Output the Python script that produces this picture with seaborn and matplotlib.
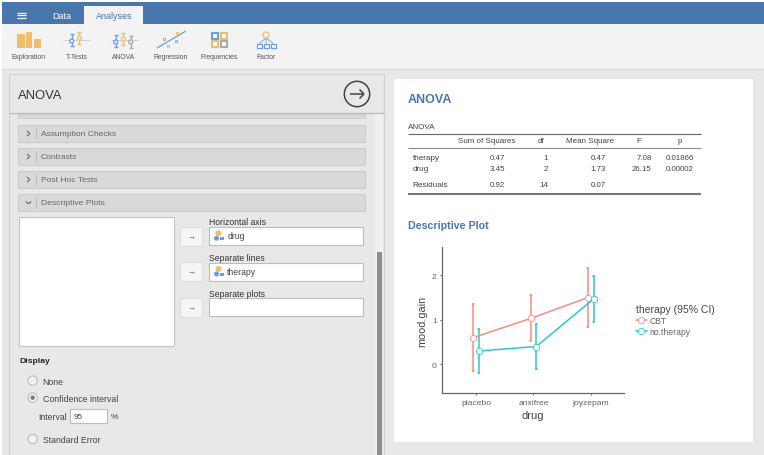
import numpy as np
import pandas as pd
import matplotlib
matplotlib.use('Agg')
import matplotlib.pyplot as plt
from matplotlib.patches import Rectangle, Circle
import seaborn as sns

# values
drugs = ['placebo', 'anxifree', 'joyzepam']
therapies = ['CBT', 'no.therapy']
cbt_mean = [0.60, 1.03, 1.50]
cbt_low = [-0.15, 0.52, 0.84]
cbt_high = [1.35, 1.55, 2.16]
not_mean = [0.30, 0.40, 1.47]
not_low = [-0.20, -0.10, 0.95]
not_high = [0.80, 0.90, 1.98]

table_terms = ['therapy', 'drug', 'Residuals']
table_ss = ['0.47', '3.45', '0.92']
table_df = ['1', '2', '14']
table_ms = ['0.47', '1.73', '0.07']
table_f = ['7.08', '26.15', '']
table_p = ['0.01866', '0.00002', '']
table_rows_y = [158, 169.7, 185]

toolbar_names = ['Exploration', 'T-Tests', 'ANOVA', 'Regression', 'Frequencies', 'Factor']
toolbar_x = [29, 77, 124, 171, 219, 266]
section_names = ['Assumption Checks', 'Contrasts', 'Post Hoc Tests', 'Descriptive Plots']
section_y = [126, 149, 172, 195]

BLUE = '#4a76ae'
ORANGE = '#f0bd6c'
ICON_BLUE = '#6c9de0'
PINK = '#fa8a82'
TEAL = '#2cc8cc'

sns.set_theme(style='ticks')
plt.rcParams['font.family'] = ['Liberation Sans', 'DejaVu Sans']

W, H = 764, 456
fig = plt.figure(figsize=(W / 100, H / 100), dpi=100, facecolor='white')
ui = fig.add_axes([0, 0, 1, 1])
ui.set_xlim(0, W)
ui.set_ylim(H, 0)
ui.axis('off')


def box(x, y, w, h, fc, ec='none', lw=0.8, z=1):
    ui.add_patch(Rectangle((x, y), w, h, fc=fc, ec=ec, lw=lw, zorder=z))


def label(x, y, s, px=8.5, color='#444444', ha='left', weight='normal', z=5):
    # va=center sits a little high for this font, nudge down with the size
    ui.text(x, y + 0.1 * px, s, fontsize=px * 0.72, color=color, ha=ha, va='center', weight=weight, zorder=z)


def seg(x0, y0, x1, y1, color='#888888', lw=1.0, z=3):
    ui.plot([x0, x1], [y0, y1], color=color, lw=lw, zorder=z, solid_capstyle='butt')


def ring(x, y, r, color, z=4, fc='#f3f3f3'):
    ui.add_patch(Circle((x, y), r, fc=fc, ec=color, lw=0.9, zorder=z))


def mini_marker(x, y, color, up):
    seg(x, y - 6, x, y + 6, color)
    seg(x - 2, y - 6, x + 2, y - 6, color)
    seg(x - 2, y + 6, x + 2, y + 6, color)
    ring(x, y + (up * 1), 2, color)


# page background and header
box(2, 3, W, H, '#e8e8e8', z=0)
box(2, 3, W, 22, BLUE)
box(2, 25, W, 45, '#f3f3f3')
seg(2, 70, W, 70, '#d9d9d9', 0.8)
box(84, 7, 59, 18.5, '#f3f3f3', z=2)
for yy in (13.7, 16.2, 18.7):
    seg(16.5, yy, 25.5, yy, 'white', 0.9)
label(62, 16, 'Data', 9, 'white', ha='center')
label(114, 16, 'Analyses', 9, BLUE, ha='center')

for name, x in zip(toolbar_names, toolbar_x):
    label(x, 57, name, 6.8, '#555555', ha='center')

# toolbar icons
box(16.7, 35, 8, 14, ORANGE)
box(25.6, 33, 6.6, 16, ORANGE)
box(34, 40, 6.7, 9, ORANGE)
seg(63, 41, 90, 41, '#cccccc', 0.6)
mini_marker(71.7, 41, ICON_BLUE, 1)
mini_marker(79.3, 39, ORANGE, 0)
seg(111, 41, 138, 41, '#cccccc', 0.6)
mini_marker(115.7, 42, ICON_BLUE, 1)
mini_marker(123.3, 40, ORANGE, 0)
mini_marker(130.7, 43, '#aaaaaa', 0)
seg(157, 49, 186, 32, ICON_BLUE, 0.9)
for px_, py_, c_ in [(164, 40, '#aaaaaa'), (168, 47, ORANGE), (176, 42, '#aaaaaa'), (177, 33.5, ORANGE)]:
    ui.add_patch(Rectangle((px_ - 1, py_ - 1), 2, 2, fc='none', ec=c_, lw=0.7, zorder=4))
for bx, by, c_ in [(212, 34, ICON_BLUE), (220.5, 34, ORANGE), (212, 42, ORANGE), (220.5, 42, '#aaaaaa')]:
    ui.add_patch(Rectangle((bx, by), 6, 6, fc='white', ec=c_, lw=1.5, zorder=4))
ring(266, 36, 3, ORANGE)
for bx in (257, 264, 271):
    ui.add_patch(Rectangle((bx, 44.5), 4.7, 4.5, fc='white', ec=ICON_BLUE, lw=0.9, zorder=4))
    seg(266, 39, bx + 2.3, 44.5, ICON_BLUE, 0.6)

# left options panel
box(9, 75, 375, 381, '#e8e8e8', ec='#cfcfcf')
box(18, 115, 347, 3.5, '#d9d9d9', ec='#cccccc')
seg(9, 114, 384, 114, '#bdbdbd', 1.0)
label(18, 95, 'ANOVA', 13, '#333333')
ui.add_patch(Circle((357, 95), 12.7, fc='none', ec='#444444', lw=1.1, zorder=4))
seg(350, 95, 364, 95, '#444444', 1.1)
seg(359.5, 90.5, 364, 95, '#444444', 1.1)
seg(359.5, 99.5, 364, 95, '#444444', 1.1)
box(375, 114, 8, 342, '#f0f0f0')
box(377, 253, 5, 203, '#8c8c8c')

for i, (name, y) in enumerate(zip(section_names, section_y)):
    box(18, y, 347, 16.5, '#d9d9d9', ec='#cccccc')
    seg(36, y + 3, 36, y + 13.5, '#bbbbbb', 0.7)
    label(41, y + 8, name, 8.5, '#666666')
    if i < 3:
        seg(27, y + 6, 30, y + 8.5, '#666666', 0.8)
        seg(27, y + 11, 30, y + 8.5, '#666666', 0.8)
    else:
        seg(26, y + 7.5, 28.5, y + 10, '#666666', 0.8)
        seg(31, y + 7.5, 28.5, y + 10, '#666666', 0.8)

box(19, 218, 155, 129, 'white', ec='#c4c4c4')

# variable boxes on the right of the list
for y_btn, y_box, y_title, title, var in [(228.3, 228.3, 222, 'Horizontal axis', 'drug'),
                                          (263, 264, 258, 'Separate lines', 'therapy'),
                                          (299, 299.3, 293.5, 'Separate plots', '')]:
    box(180.3, y_btn, 22, 19, '#f5f5f5', ec='#dddddd')
    label(191.3, y_btn + 9, '\u2192', 8, '#555555', ha='center')
    box(209.3, y_box, 154, 17.5, 'white', ec='#bdbdbd')
    label(209.3, y_title, title, 8.7, '#333333')
    if var:
        ui.add_patch(Circle((218.5, y_box + 6), 3, fc=ORANGE, ec='none', zorder=4))
        ui.add_patch(Circle((216.5, y_box + 11), 2.5, fc=ICON_BLUE, ec='none', zorder=4))
        box(220, y_box + 10, 3.5, 3, ICON_BLUE, z=4)
        label(227.3, y_box + 7.5, var, 8.7, '#444444')

label(19, 361, 'Display', 8.5, '#222222', weight='bold')
for y, name, sel in [(381.7, 'None', False), (398.7, 'Confidence interval', True), (440, 'Standard Error', False)]:
    ui.add_patch(Circle((32.7, y), 4.7, fc='#f2f2f2', ec='#bbbbbb', lw=0.8, zorder=4))
    if sel:
        ui.add_patch(Circle((32.7, y), 2.2, fc='#777777', ec='none', zorder=5))
    label(42.7, y - 0.5, name, 8.8, '#444444')
label(38, 416.5, 'Interval', 8.7, '#444444')
box(70.3, 410.3, 36.7, 13.4, 'white', ec='#bdbdbd')
label(74, 416.5, '95', 8, '#444444')
label(111, 416.5, '%', 8.5, '#444444')

# results panel
box(394, 80, 359, 363, 'white')
label(408, 98.5, 'ANOVA', 12.5, BLUE, weight='bold')
label(408, 127, 'ANOVA', 8, '#444444')
seg(408, 134.5, 701, 134.5, '#666666', 0.8)
seg(408, 148.5, 701, 148.5, '#888888', 0.8)
seg(408, 195, 701, 195, '#777777', 1.5)
for x, name in zip([486.7, 541, 590, 639, 680], ['Sum of Squares', 'df', 'Mean Square', 'F', 'p']):
    label(x, 140.8, name, 8, '#444444', ha='center')
for x, column in zip([505, 548, 605.7, 651.7, 694], [table_ss, table_df, table_ms, table_f, table_p]):
    for y, val in zip(table_rows_y, column):
        label(x, y - 0.7, val, 7.9, '#444444', ha='right')
for y, term in zip(table_rows_y, table_terms):
    label(412.7, y - 0.7, term, 8.2, '#444444')
label(408, 224.5, 'Descriptive Plot', 10.6, BLUE, weight='bold')

# the plot itself: each row triple gives low/mean/high, median picks the mean
rows = []
for therapy, lows, means, highs in [('CBT', cbt_low, cbt_mean, cbt_high),
                                    ('no.therapy', not_low, not_mean, not_high)]:
    for drug, lo, mid, hi in zip(drugs, lows, means, highs):
        for v in (lo, mid, hi):
            rows.append({'drug': drug, 'therapy': therapy, 'mood.gain': v})
df = pd.DataFrame(rows)

left, right, top, bottom = 442.3, 624, 248, 394.3
ax = fig.add_axes([left / W, 1 - bottom / H, (right - left) / W, (bottom - top) / H])
ax.patch.set_alpha(0)
sns.pointplot(data=df, x='drug', y='mood.gain', hue='therapy', order=drugs, hue_order=therapies,
              palette=[PINK, TEAL], estimator=np.median, errorbar=lambda v: (v.min(), v.max()),
              dodge=0.1, capsize=0.02, markers='o', linewidth=1.1, markersize=4.6,
              markerfacecolor='white', markeredgewidth=0.6, ax=ax)
# keep the white markers on top of the error bars
for line in ax.lines:
    line.set_zorder(4 if line.get_marker() == 'o' else 2)
ax.set_xlim(-0.588, 2.58)
ax.set_ylim(-0.65, 2.635)
ax.set_yticks([0, 1, 2])
sns.despine(ax=ax)
for side in ('left', 'bottom'):
    ax.spines[side].set_color('#666666')
    ax.spines[side].set_linewidth(0.9)
ax.tick_params(axis='both', length=1.5, width=0.7, color='#666666', labelcolor='#666666',
               labelsize=6.1, pad=2.5)
ax.set_xlabel('drug', fontsize=8, color='#444444', va='center')
ax.set_ylabel('mood.gain', fontsize=7.8, color='#444444', va='center')
ax.xaxis.set_label_coords(0.5, (bottom - 415.7) / (bottom - top))
ax.yaxis.set_label_coords((422 - left) / (right - left), 0.5)

handles, names = ax.get_legend_handles_labels()
leg = ax.legend(handles, names, title='therapy (95% CI)', loc='upper left',
                bbox_to_anchor=(632 / W, 1 - 301 / H), bbox_transform=fig.transFigure,
                frameon=False, fontsize=6.2, title_fontsize=7.5, alignment='left',
                handlelength=1.2, handletextpad=0.3, labelspacing=0.2, borderpad=0.2, borderaxespad=0.3)
for txt in leg.get_texts():
    txt.set_color('#666666')
leg.get_title().set_color('#444444')

fig.savefig('out.png', dpi=100)
